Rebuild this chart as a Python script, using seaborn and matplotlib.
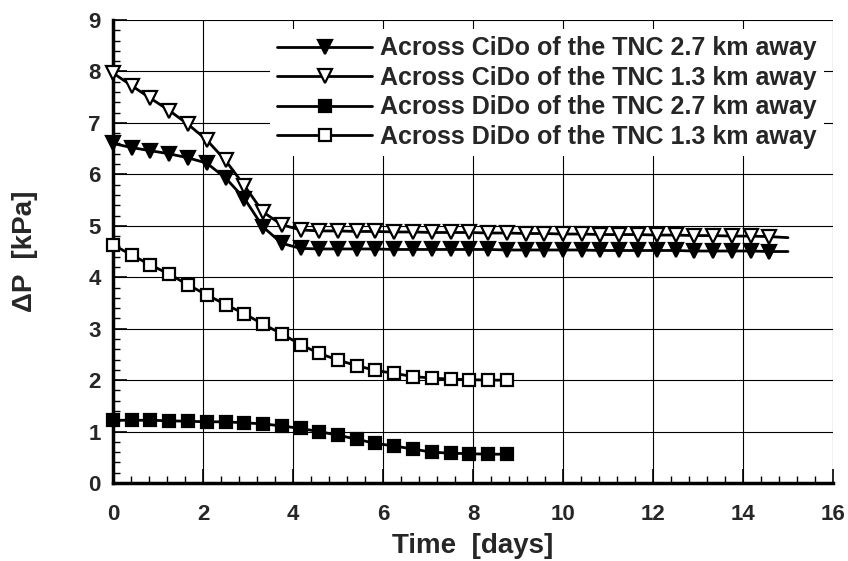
# Pressure drop across CiDo / DiDo vs time
import matplotlib
matplotlib.use("Agg")
import matplotlib.pyplot as plt
from matplotlib.ticker import MultipleLocator
import seaborn as sns

t_cido = [0, 0.42, 0.83, 1.25, 1.67, 2.08, 2.5, 2.92, 3.33, 3.75, 4.17, 4.58,
          5.0, 5.42, 5.83, 6.25, 6.67, 7.08, 7.5, 7.92, 8.33, 8.75, 9.17, 9.58,
          10.0, 10.42, 10.83, 11.25, 11.67, 12.08, 12.5, 12.92, 13.33, 13.75,
          14.17, 14.58, 15.0]
cido_27 = [6.60, 6.52, 6.46, 6.40, 6.32, 6.22, 5.93, 5.53, 4.98, 4.66, 4.56, 4.55,
           4.55, 4.55, 4.55, 4.54, 4.54, 4.54, 4.54, 4.54, 4.54, 4.53, 4.53, 4.53,
           4.53, 4.53, 4.52, 4.52, 4.52, 4.52, 4.52, 4.51, 4.51, 4.51,
           4.51, 4.50, 4.50]
cido_13 = [7.97, 7.72, 7.48, 7.24, 6.97, 6.67, 6.27, 5.78, 5.27, 5.02, 4.92, 4.90,
           4.90, 4.89, 4.89, 4.88, 4.88, 4.87, 4.87, 4.87, 4.86, 4.86, 4.85, 4.85,
           4.84, 4.84, 4.83, 4.83, 4.83, 4.82, 4.82, 4.81, 4.81, 4.80,
           4.80, 4.79, 4.77]

t_dido = [0, 0.42, 0.83, 1.25, 1.67, 2.08, 2.5, 2.92, 3.33, 3.75, 4.17, 4.58,
          5.0, 5.42, 5.83, 6.25, 6.67, 7.08, 7.5, 7.92, 8.33, 8.75]
dido_27 = [1.22, 1.22, 1.22, 1.21, 1.20, 1.19, 1.19, 1.17, 1.15, 1.11, 1.06, 1.00,
           0.93, 0.85, 0.77, 0.72, 0.66, 0.60, 0.58, 0.57, 0.56, 0.56]
dido_13 = [4.63, 4.43, 4.24, 4.06, 3.85, 3.66, 3.47, 3.29, 3.09, 2.90, 2.69, 2.52,
           2.39, 2.28, 2.19, 2.13, 2.07, 2.04, 2.02, 2.01, 2.00, 2.00]

labels = ["Across CiDo of the TNC 2.7 km away",
          "Across CiDo of the TNC 1.3 km away",
          "Across DiDo of the TNC 2.7 km away",
          "Across DiDo of the TNC 1.3 km away"]

sns.set_style("white")
plt.rcParams['font.family'] = ['Liberation Sans', 'DejaVu Sans']
plt.rcParams['font.weight'] = 'bold'

fig = plt.figure(figsize=(8.48, 5.61), dpi=100)
ax = fig.add_axes([0.1333, 0.139, 0.8490, 0.8253])

common = dict(color='black', linewidth=2.0, markeredgecolor='black',
              markeredgewidth=1.6, sort=False, clip_on=False, zorder=3, ax=ax)
sns.lineplot(x=t_cido, y=cido_27, marker='v', markersize=10, markerfacecolor='black',
             markevery=slice(0, len(t_cido) - 1), label=labels[0], **common)
sns.lineplot(x=t_cido, y=cido_13, marker='v', markersize=10, markerfacecolor='white',
             markevery=slice(0, len(t_cido) - 1), label=labels[1], **common)
sns.lineplot(x=t_dido, y=dido_27, marker='s', markersize=8.5, markerfacecolor='black',
             label=labels[2], **common)
sns.lineplot(x=t_dido, y=dido_13, marker='s', markersize=8.5, markerfacecolor='white',
             label=labels[3], **common)

ax.set_xlim(0, 16)
ax.set_ylim(0, 9)
ax.xaxis.set_major_locator(MultipleLocator(2))
ax.xaxis.set_minor_locator(MultipleLocator(0.4))
ax.yaxis.set_major_locator(MultipleLocator(1))
ax.yaxis.set_minor_locator(MultipleLocator(0.2))
ax.grid(True, which='major', color='black', linewidth=0.8)
ax.tick_params(which='major', direction='in', length=10, width=1.2,
               labelsize=16, color='black')
ax.tick_params(which='minor', direction='in', length=5, width=1, color='black')
ax.tick_params(axis='x', which='both', bottom=True, top=False, pad=15)
ax.tick_params(axis='y', which='both', left=True, right=False, pad=9)
for lbl in ax.get_xticklabels() + ax.get_yticklabels():
    lbl.set_fontweight('bold')

for side in ['top', 'right']:
    ax.spines[side].set_visible(False)
for side in ['left', 'bottom']:
    ax.spines[side].set_linewidth(2.5)
    ax.spines[side].set_color('black')

ax.set_xlabel('Time  [days]', fontsize=20, fontweight='bold', labelpad=6)
ax.set_ylabel('ΔP  [kPa]', fontsize=20, fontweight='bold', labelpad=36)

leg = ax.legend(loc='upper right', bbox_to_anchor=(1.0, 1.0),
                prop={'weight': 'bold', 'size': 18, 'family': 'Liberation Sans'},
                frameon=True, fancybox=False, framealpha=1, edgecolor='white',
                handlelength=3.8, handletextpad=0.32, labelspacing=0.22,
                borderpad=0.3, borderaxespad=0.35)
leg.get_frame().set_facecolor('white')
leg.get_frame().set_linewidth(0)
leg.set_zorder(5)

fig.savefig('out.png', dpi=100)
